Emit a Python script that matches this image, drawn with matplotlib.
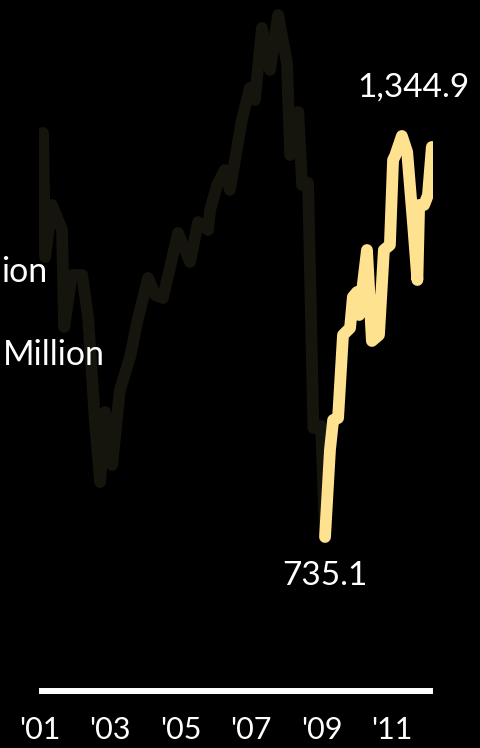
import matplotlib
matplotlib.use('Agg')
import matplotlib.pyplot as plt

# index level (decimal years)
early_years = [2001.10, 2001.16, 2001.35, 2001.64, 2001.70, 2001.92, 2002.21, 2002.38,
               2002.57, 2002.72, 2002.86, 2003.06, 2003.28, 2003.57, 2003.77, 2004.08,
               2004.28, 2004.50, 2004.93, 2005.27, 2005.50, 2005.78, 2005.84, 2006.04,
               2006.26, 2006.40, 2006.74, 2006.97, 2007.11, 2007.31, 2007.54, 2007.77,
               2008.02, 2008.11, 2008.34, 2008.45, 2008.62, 2008.77, 2008.99, 2009.10]
early_values = [1349.5, 1160.9, 1240.0, 1202.0, 1054.4, 1133.5, 1133.5, 1068.1,
                913.0, 818.7, 925.2, 844.6, 958.6, 1008.8, 1062.1, 1129.0,
                1103.1, 1098.5, 1197.4, 1153.3, 1214.1, 1202.0, 1232.4, 1270.4,
                1293.2, 1262.8, 1369.2, 1417.9, 1399.6, 1509.1, 1445.3, 1528.9,
                1455.9, 1316.0, 1381.4, 1270.4, 1273.4, 900.9, 903.9, 735.1]

late_years = [2009.10, 2009.24, 2009.33, 2009.47, 2009.61, 2009.81, 2009.89, 2010.01,
              2010.07, 2010.29, 2010.43, 2010.63, 2010.77, 2010.94, 2011.03, 2011.09,
              2011.28, 2011.43, 2011.60, 2011.72, 2011.77, 2011.91, 2012.02, 2012.13]
late_values = [735.1, 867.4, 913.0, 916.0, 1042.3, 1052.9, 1100.1, 1107.7,
               1072.7, 1171.5, 1033.2, 1042.3, 1171.5, 1179.1, 1308.4, 1315.0,
               1344.9, 1320.6, 1209.6, 1125.9, 1240.0, 1240.0, 1255.2, 1328.2]

tick_years = [2001, 2003, 2005, 2007, 2009, 2011]
tick_labels = ["'01", "'03", "'05", "'07", "'09", "'11"]

low_label = '735.1'
high_label = '1,344.9'

W, H, dpi = 481, 748, 100
font = ['Lato', 'DejaVu Sans']
dark_color = '#15140d'
light_color = '#ffe290'

fig = plt.figure(figsize=(W / dpi, H / dpi), dpi=dpi, facecolor='black')
ax = fig.add_axes((39 / W, (H - 691) / H, (433 - 39) / W, 691 / H))
ax.set_facecolor('black')
ax.set_xlim(2000.986, 2012.163)
ax.set_ylim(500.9, 1551.7)

for s in ['top', 'left', 'right']:
    ax.spines[s].set_visible(False)
ax.spines['bottom'].set_color('white')
ax.spines['bottom'].set_linewidth(4.3)
ax.spines['bottom'].set_capstyle('butt')

ax.set_yticks([])
ax.set_xticks(tick_years)
ax.set_xticklabels(tick_labels, color='white', fontsize=22, family=font)
ax.tick_params(axis='x', length=0, pad=18)

# lines
ax.plot(early_years, early_values, color=dark_color, lw=8.5,
        solid_capstyle='round', solid_joinstyle='round')
ax.plot(late_years, late_values, color=light_color, lw=8.5,
        solid_capstyle='round', solid_joinstyle='round')

# value labels
ax.annotate(high_label, (2011.28, 1344.9), xytext=(8, 24), textcoords='offset points',
            ha='center', va='bottom', color='white', fontsize=24, family=font)
ax.annotate(low_label, (2009.10, 735.1), xytext=(0, -17), textcoords='offset points',
            ha='center', va='top', color='white', fontsize=24, family=font)

# legend text fragments at the left edge
fig.text(1 / W, 1 - 282 / H, 'ion', ha='left', va='baseline',
         color='white', fontsize=24.5, family=font)
fig.text(3 / W, 1 - 365 / H, 'Million', ha='left', va='baseline',
         color='white', fontsize=24.5, family=font)

fig.savefig('out.png', dpi=dpi, facecolor='black')
plt.close()
